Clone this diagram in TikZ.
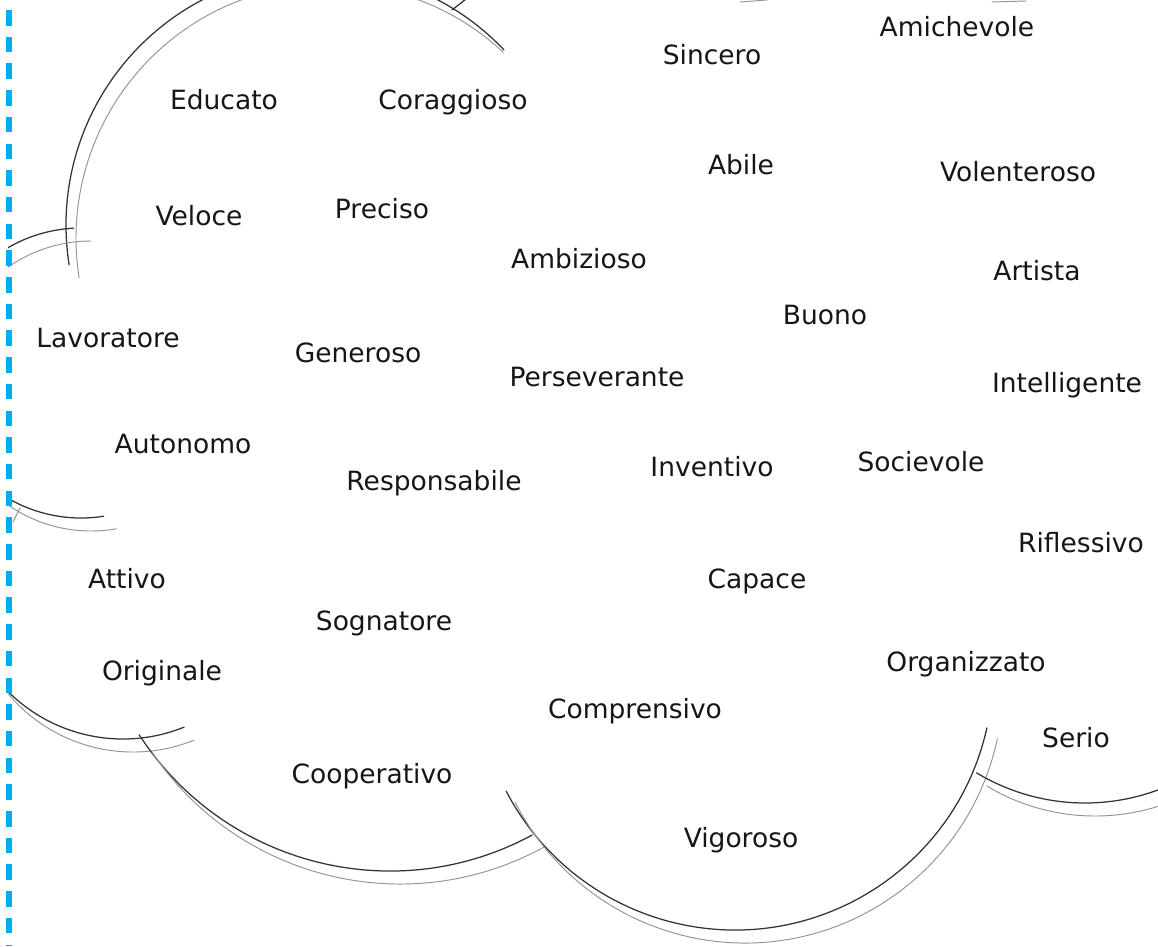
\documentclass[tikz,border=0pt]{standalone}
\usepackage{fontspec}
\setmainfont{DejaVu Sans}
\definecolor{ink}{HTML}{161616}
\definecolor{cyanline}{HTML}{00AEEF}
\newcommand\wordfont{\fontsize{26.5}{30}\selectfont}
% lobe arc: centre x, centre y, radius, start, end; shadow start, shadow end
\newcommand\lobe[7]{%
  \draw[outline,shift={(#1,#2)}] (#4:#3) arc[start angle=#4,end angle=#5,radius=#3];
  \draw[shadeline,shift={({#1+10},{#2+13})}] (#6:#3) arc[start angle=#6,end angle=#7,radius=#3];}
\tikzset{
  word/.style={anchor=base, inner sep=0pt, text=ink, font=\wordfont},
  outline/.style={draw=black!80, line width=1.25pt, line cap=round},
  shadeline/.style={draw=black!42, line width=0.95pt, line cap=round},
  margin/.style={draw=cyanline, line width=5.5pt, dash pattern=on 15.5pt off 11.2pt},
}
\begin{document}
\begin{tikzpicture}[x=1pt,y=-1pt]
\useasboundingbox (0,0) rectangle (1158,946);
\fill[white] (0,0) rectangle (1158,946);

\begin{scope}
\clip (8,-2) rectangle (1158,946);
% lobe A (upper left)
\lobe{320}{225}{254}{-43.6}{-189}{-47}{-189}
% lobe B (left), top and bottom pieces
\lobe{81}{373}{145}{-93}{-140}{-90}{-140}
\lobe{81}{373}{145}{81}{125}{80}{125}
% lobe C (lower left)
\lobe{123}{576}{163}{68}{140}{68}{140}
% lobe D (bottom, Cooperativo)
\lobe{390}{572}{299}{61.6}{147}{61}{146}
% lobe E (bottom, Vigoroso)
\lobe{735}{672}{258}{12.5}{152.5}{12}{153}
% lobe F (right, Serio)
\lobe{1085}{593}{210}{65}{121.1}{65}{121}
% small fragments
\draw[outline] (466,-1) -- (452,10);
\draw[shadeline] (740,2) -- (767,0);
\draw[shadeline] (992,2) -- (1026,1);
\draw[shadeline] (13,522) -- (20,508);
\end{scope}

\coordinate (mtop) at (9,10);
\coordinate (mbot) at (9,946);
\draw[margin] (mtop) -- (mbot);

\node[word] (amichevole) at (957,36) {Amichevole};
\node[word] (sincero) at (712,64) {Sincero};
\node[word] (educato) at (224,109) {Educato};
\node[word] (coraggioso) at (453,109) {Coraggioso};
\node[word] (abile) at (741,174) {Abile};
\node[word] (volenteroso) at (1018,181) {Volenteroso};
\node[word] (veloce) at (199,225) {Veloce};
\node[word] (preciso) at (382,218) {Preciso};
\node[word] (ambizioso) at (579,268) {Ambizioso};
\node[word] (artista) at (1037,280) {Artista};
\node[word] (buono) at (825,324) {Buono};
\node[word] (lavoratore) at (108,347) {Lavoratore};
\node[word] (generoso) at (358,362) {Generoso};
\node[word] (perseverante) at (597,386) {Perseverante};
\node[word] (intelligente) at (1067,392) {Intelligente};
\node[word] (autonomo) at (183,453) {Autonomo};
\node[word] (inventivo) at (712,476) {Inventivo};
\node[word] (socievole) at (921,471) {Socievole};
\node[word] (responsabile) at (434,490) {Responsabile};
\node[word] (riflessivo) at (1081,552) {Riflessivo};
\node[word] (attivo) at (127,588) {Attivo};
\node[word] (capace) at (757,588) {Capace};
\node[word] (sognatore) at (384,630) {Sognatore};
\node[word] (organizzato) at (966,671) {Organizzato};
\node[word] (originale) at (162,680) {Originale};
\node[word] (comprensivo) at (635,718) {Comprensivo};
\node[word] (serio) at (1076,747) {Serio};
\node[word] (cooperativo) at (372,783) {Cooperativo};
\node[word] (vigoroso) at (741,847) {Vigoroso};
\end{tikzpicture}
\end{document}
